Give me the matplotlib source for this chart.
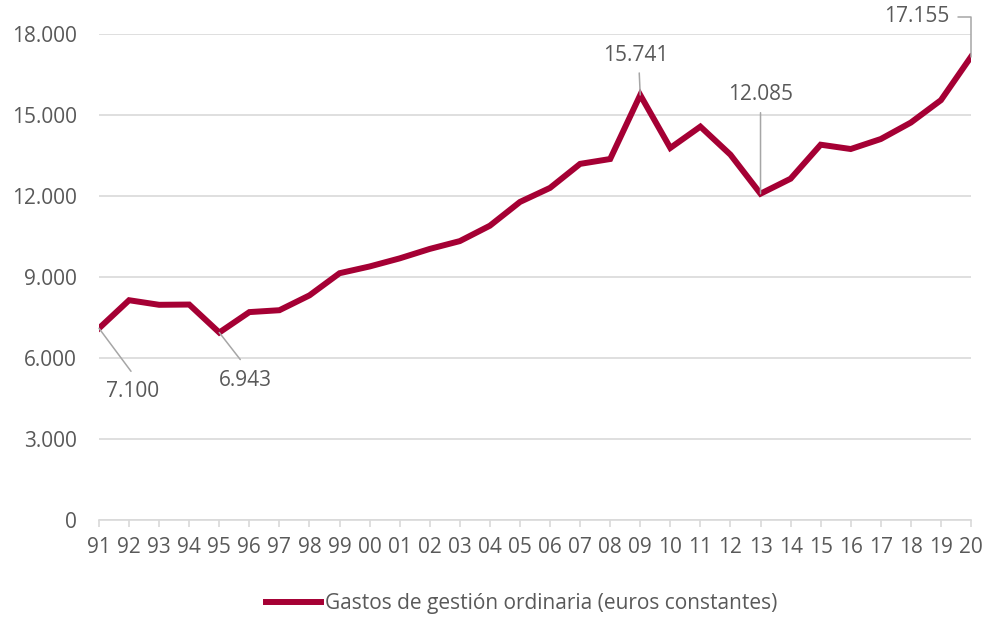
import numpy as np
import matplotlib
matplotlib.use("Agg")
import matplotlib.pyplot as plt

# Datos: gastos de gestion ordinaria (euros constantes)
anios = ["91", "92", "93", "94", "95", "96", "97", "98", "99", "00",
         "01", "02", "03", "04", "05", "06", "07", "08", "09", "10",
         "11", "12", "13", "14", "15", "16", "17", "18", "19", "20"]
gastos = [7100, 8140, 7970, 7980, 6943, 7700, 7770, 8320, 9140, 9390,
          9690, 10040, 10330, 10900, 11780, 12300, 13190, 13370, 15741, 13780,
          14570, 13530, 12085, 12640, 13900, 13740, 14110, 14720, 15550, 17155]
yticks = [0, 3000, 6000, 9000, 12000, 15000, 18000]

plt.rcParams['font.family'] = ['Open Sans', 'DejaVu Sans']
gris = '#595959'
rojo = '#A50034'
guia = '#A6A6A6'
fs = 15

fig = plt.figure(figsize=(9.86, 6.18), dpi=100)
ax = fig.add_axes([99/986, 98/618, 872/986, 486/618])

x = np.arange(len(anios))
ax.plot(x, gastos, color=rojo, lw=4.3, solid_joinstyle='miter',
        label='Gastos de gestión ordinaria (euros constantes)', zorder=3)

ax.set_xlim(0, len(anios) - 1)
ax.set_ylim(0, 18000)
ax.set_xticks(x)
ax.set_xticklabels(anios)
ax.set_yticks(yticks)
ax.set_yticklabels([f"{v:,}".replace(",", ".") for v in yticks])

ax.grid(axis='y', color='#D9D9D9', lw=1.2)
ax.set_axisbelow(True)
for s in ['top', 'right', 'left']:
    ax.spines[s].set_visible(False)
ax.spines['bottom'].set_color('#D9D9D9')
ax.spines['bottom'].set_linewidth(1.2)
ax.tick_params(axis='x', colors='#D9D9D9', length=5, width=1.2, pad=7,
               labelcolor=gris, labelsize=fs)
ax.tick_params(axis='y', length=0, pad=16, labelcolor=gris, labelsize=fs)


# Etiquetas de datos con lineas guia (desplazamientos en pixeles)
def etiqueta(i, dx, dy, texto, lx, ly, conexion='arc3'):
    ax.annotate(texto, xy=(i, gastos[i]), xytext=(dx, dy),
                textcoords='offset pixels', ha='center', va='center',
                fontsize=fs, color=gris)
    ax.annotate('', xy=(i, gastos[i]), xytext=(lx, ly),
                textcoords='offset pixels',
                arrowprops=dict(arrowstyle='-', color=guia, lw=1.1,
                                shrinkA=0, shrinkB=0,
                                connectionstyle=conexion))


etiqueta(0, 34, -63, "7.100", 32, -43)
etiqueta(4, 26, -48, "6.943", 21, -27)
etiqueta(18, -4, 39, "15.741", -1, 22)
etiqueta(22, 0, 99, "12.085", 0, 81)
etiqueta(len(gastos) - 1, -54, 40, "17.155", -13, 40,
         conexion='angle,angleA=0,angleB=90,rad=0')

fig.legend(loc='center', bbox_to_anchor=(0.529, 0.023), frameon=False,
           fontsize=fs, labelcolor=gris, handlelength=2.64, handletextpad=0.2)

fig.savefig('out.png', dpi=100)
